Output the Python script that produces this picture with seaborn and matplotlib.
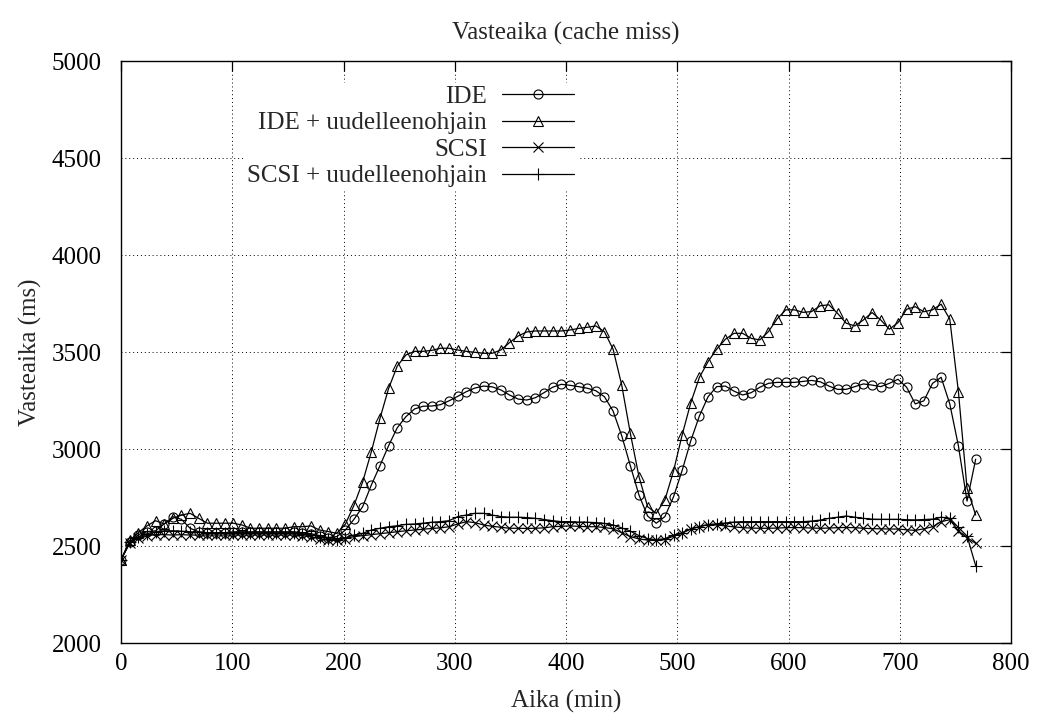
import numpy as np
import pandas as pd
import matplotlib
matplotlib.use("Agg")
import matplotlib.pyplot as plt
import seaborn as sns

# sampling interval of the measurements (minutes)
step_min = 7.76
n_points = 100

ide = [2430, 2520, 2560, 2575, 2580, 2615, 2653, 2639, 2593, 2575,
       2570, 2570, 2570, 2575, 2575, 2575, 2575, 2575, 2575, 2575,
       2575, 2570, 2565, 2555, 2545, 2550, 2584, 2640, 2705, 2816,
       2916, 3019, 3111, 3168, 3208, 3222, 3223, 3230, 3250, 3273,
       3297, 3316, 3326, 3322, 3306, 3280, 3259, 3254, 3266, 3292,
       3320, 3335, 3330, 3323, 3315, 3302, 3271, 3197, 3070, 2915,
       2764, 2656, 2619, 2653, 2755, 2891, 3044, 3172, 3271, 3323,
       3326, 3300, 3280, 3292, 3320, 3340, 3345, 3345, 3345, 3350,
       3355, 3348, 3326, 3309, 3309, 3323, 3337, 3331, 3323, 3340,
       3361, 3320, 3234, 3250, 3340, 3371, 3234, 3018, 2733, 2949]

ide_ohj = [2430, 2530, 2570, 2605, 2632, 2615, 2644, 2661, 2670, 2644,
           2619, 2619, 2619, 2619, 2610, 2593, 2593, 2593, 2593, 2593,
           2601, 2601, 2605, 2584, 2576, 2567, 2615, 2713, 2833, 2988,
           3160, 3314, 3429, 3486, 3505, 3505, 3510, 3521, 3521, 3512,
           3505, 3500, 3495, 3495, 3512, 3550, 3584, 3605, 3610, 3610,
           3610, 3610, 3615, 3623, 3629, 3636, 3606, 3516, 3331, 3082,
           2859, 2704, 2670, 2739, 2888, 3074, 3240, 3371, 3452, 3516,
           3567, 3598, 3598, 3572, 3564, 3607, 3672, 3719, 3719, 3706,
           3710, 3740, 3745, 3701, 3650, 3636, 3667, 3705, 3667, 3619,
           3653, 3722, 3735, 3709, 3719, 3748, 3671, 3297, 2799, 2661]

scsi = [2430, 2515, 2545, 2555, 2560, 2560, 2558, 2560, 2558, 2558,
        2558, 2558, 2558, 2558, 2558, 2558, 2558, 2558, 2558, 2558,
        2558, 2555, 2548, 2540, 2530, 2530, 2540, 2550, 2555, 2560,
        2565, 2570, 2575, 2580, 2584, 2588, 2592, 2595, 2601, 2615,
        2627, 2622, 2610, 2603, 2598, 2593, 2593, 2592, 2593, 2595,
        2601, 2603, 2605, 2603, 2601, 2601, 2597, 2590, 2570, 2550,
        2538, 2532, 2530, 2535, 2552, 2567, 2590, 2601, 2612, 2610,
        2605, 2600, 2596, 2594, 2593, 2593, 2594, 2596, 2597, 2596,
        2594, 2593, 2594, 2596, 2597, 2596, 2593, 2591, 2590, 2589,
        2589, 2585, 2582, 2590, 2601, 2627, 2637, 2580, 2545, 2515]

scsi_ohj = [2430, 2520, 2550, 2565, 2575, 2580, 2580, 2578, 2575, 2572,
            2570, 2570, 2570, 2570, 2570, 2570, 2570, 2570, 2570, 2570,
            2570, 2565, 2560, 2550, 2540, 2535, 2545, 2558, 2567, 2584,
            2593, 2601, 2606, 2613, 2615, 2619, 2624, 2627, 2632, 2653,
            2661, 2670, 2670, 2661, 2653, 2650, 2650, 2648, 2644, 2638,
            2632, 2627, 2627, 2625, 2624, 2622, 2618, 2610, 2595, 2578,
            2555, 2540, 2533, 2540, 2558, 2570, 2590, 2601, 2612, 2616,
            2620, 2625, 2627, 2627, 2627, 2627, 2627, 2627, 2627, 2627,
            2630, 2635, 2644, 2650, 2656, 2650, 2644, 2640, 2639, 2639,
            2639, 2637, 2636, 2638, 2640, 2650, 2644, 2597, 2553, 2400]

labels = ["IDE", "IDE + uudelleenohjain", "SCSI", "SCSI + uudelleenohjain"]
markers = ["o", "^", "x", "+"]
marker_sizes = [6.5, 6.5, 6.5, 8]

x_ticks = list(range(0, 801, 100))
y_ticks = list(range(2000, 5001, 500))

aika = np.arange(n_points) * step_min
df = pd.DataFrame({"Aika": aika, labels[0]: ide, labels[1]: ide_ohj,
                   labels[2]: scsi, labels[3]: scsi_ohj})

sns.set_theme(style="white")
plt.rcParams["font.family"] = ["Liberation Serif", "DejaVu Serif"]
fs = 18

fig = plt.figure(figsize=(10.44, 7.25), dpi=100)
ax = fig.add_axes([0.1159, 0.1127, 0.8525, 0.8027])

for name, m, ms in zip(labels, markers, marker_sizes):
    sns.lineplot(data=df, x="Aika", y=name, ax=ax, label=name, color="black",
                 linewidth=0.9, marker=m, markersize=ms,
                 markerfacecolor="none", markeredgecolor="black",
                 markeredgewidth=0.8)

ax.set_xlim(0, 800)
ax.set_ylim(2000, 5000)
ax.set_xticks(x_ticks)
ax.set_yticks(y_ticks)
ax.grid(True, color="black", linestyle=(0, (1, 3)), linewidth=0.7)
ax.tick_params(direction="in", length=7, width=0.9, top=True, right=True,
               labelsize=fs, colors="black")
ax.tick_params(axis="y", pad=14)
ax.tick_params(axis="x", pad=7)
for sp in ax.spines.values():
    sp.set_color("black")
    sp.set_linewidth(1.0)

ax.set_title("Vasteaika (cache miss)", fontsize=fs, pad=16)
ax.set_xlabel("Aika (min)", fontsize=fs, labelpad=11)
ax.set_ylabel("Vasteaika (ms)", fontsize=fs, labelpad=7)

leg = ax.legend(loc="upper right", bbox_to_anchor=(0.512, 0.963),
                markerfirst=False, fontsize=fs, handlelength=2.9,
                labelspacing=0.16, frameon=True, framealpha=1.0,
                facecolor="white", edgecolor="white", fancybox=False,
                borderpad=0.1, borderaxespad=0.0, handletextpad=0.6)
for t in leg.get_texts():
    t.set_ha("right")
leg._legend_box.align = "right"

fig.savefig("out.png", dpi=100)
